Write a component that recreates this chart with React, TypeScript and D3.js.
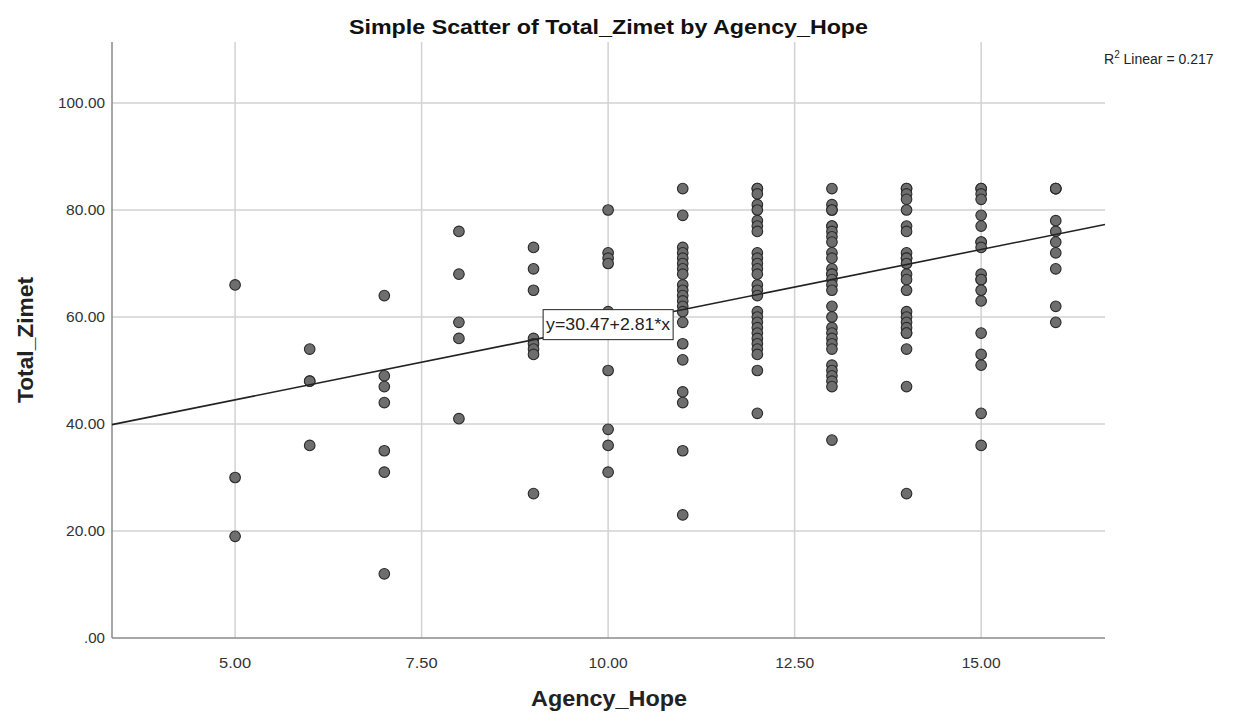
import React from "react";
import * as d3 from "d3";

const xTicks = [5, 7.5, 10, 12.5, 15];
const yTicks = [0, 20, 40, 60, 80, 100];

const hope5 = [66, 30, 19];
const hope6 = [54, 48, 48, 36];
const hope7 = [64, 49, 47, 44, 35, 31, 12];
const hope8 = [76, 68, 59, 56, 41];
const hope9 = [73, 69, 65, 56, 55, 54, 53, 27];
const hope10 = [80, 72, 71, 70, 61, 50, 39, 36, 31];
const hope11 = [84, 79, 73, 72, 71, 70, 69, 68, 66, 65, 64, 63, 62, 61, 59, 55, 52, 46, 44, 35, 23];
const hope12 = [84, 84, 83, 81, 80, 78, 77, 76, 72, 71, 70, 69, 68, 66, 65, 64, 61, 60, 59, 58, 57, 56, 55, 54, 53, 50, 42];
const hope13 = [84, 81, 80, 80, 77, 77, 76, 75, 74, 72, 71, 69, 68, 68, 67, 66, 65, 62, 60, 58, 57, 56, 55, 54, 51, 50, 49, 48, 47, 37];
const hope14 = [84, 84, 83, 82, 80, 77, 76, 72, 71, 71, 70, 68, 67, 65, 61, 60, 59, 58, 57, 57, 54, 47, 27];
const hope15 = [84, 84, 83, 82, 79, 77, 74, 74, 73, 68, 67, 67, 65, 63, 57, 53, 51, 42, 36];
const hope16 = [84, 84, 84, 78, 76, 74, 72, 69, 62, 59];

const columns: [number, number[]][] = [
  [5, hope5], [6, hope6], [7, hope7], [8, hope8], [9, hope9], [10, hope10],
  [11, hope11], [12, hope12], [13, hope13], [14, hope14], [15, hope15], [16, hope16],
];

const intercept = 30.47;
const slope = 2.81;
const eqLabel = "y=30.47+2.81*x";
const r2Text = "0.217";

const W = 1235;
const H = 712;
const L = 112, R = 1105, T = 42, B = 638;

export default function App() {
  const x = d3.scaleLinear().domain([3.35, 16.66]).range([L, R]);
  const y = d3.scaleLinear().domain([0, 111.4]).range([B, T]);
  const points = columns.flatMap(([hx, vals]) => vals.map((v) => ({ hx, v })));
  const fit = (v: number) => intercept + slope * v;
  const [x0, x1] = x.domain();
  const font = "'Liberation Sans', Arial, sans-serif";
  const eqX = x(10);
  const eqY = y(fit(10));

  return (
    <svg width={W} height={H} style={{ position: "absolute", left: 0, top: 0, background: "#fff" }} fontFamily={font}>
      <rect x={0} y={0} width={W} height={H} fill="#fff" />
      {yTicks.filter((t) => t > 0).map((t) => (
        <line key={"gy" + t} x1={L} x2={R} y1={y(t)} y2={y(t)} stroke="#d2d2d2" strokeWidth={1.5} />
      ))}
      {xTicks.map((t) => (
        <line key={"gx" + t} x1={x(t)} x2={x(t)} y1={T} y2={B} stroke="#d2d2d2" strokeWidth={1.5} />
      ))}
      <line x1={L} x2={L} y1={T} y2={B} stroke="#8a8a8a" strokeWidth={1.5} />
      <line x1={L} x2={R} y1={B} y2={B} stroke="#8a8a8a" strokeWidth={1.5} />
      {yTicks.map((t) => (
        <text key={"ty" + t} x={105} y={y(t)} dy="0.35em" textAnchor="end" fontSize={14.5} fill="#333"
          textLength={t === 0 ? 21 : t === 100 ? 47 : 39} lengthAdjust="spacingAndGlyphs">
          {t === 0 ? ".00" : t.toFixed(2)}
        </text>
      ))}
      {xTicks.map((t) => (
        <text key={"tx" + t} x={x(t)} y={663} dy="0.35em" textAnchor="middle" fontSize={14.5} fill="#333"
          textLength={t < 10 ? 32 : 39} lengthAdjust="spacingAndGlyphs">
          {t.toFixed(2)}
        </text>
      ))}
      {points.map((p, i) => (
        <circle key={i} cx={x(p.hx)} cy={y(p.v)} r={5.3} fill="#6e6e6e" stroke="#2a2a2a" strokeWidth={1.1} />
      ))}
      <line x1={x(x0)} y1={y(fit(x0))} x2={x(x1)} y2={y(fit(x1))} stroke="#222" strokeWidth={1.6} />
      <rect x={eqX - 65} y={eqY - 15} width={130} height={30} fill="#fff" stroke="#222" strokeWidth={1} />
      <text x={eqX} y={eqY} dy="0.35em" textAnchor="middle" fontSize={16.5} fill="#222"
        textLength={124} lengthAdjust="spacingAndGlyphs">{eqLabel}</text>
      <text x={608.5} y={34} textAnchor="middle" fontSize={20} fontWeight="bold" fill="#111"
        textLength={519} lengthAdjust="spacingAndGlyphs">
        Simple Scatter of Total_Zimet by Agency_Hope
      </text>
      <text x={1104} y={64} fontSize={14} fill="#222">
        R<tspan dy={-6} fontSize={10}>2</tspan><tspan dy={6}> Linear = {r2Text}</tspan>
      </text>
      <text x={609} y={706} textAnchor="middle" fontSize={22} fontWeight="bold" fill="#222"
        textLength={156} lengthAdjust="spacingAndGlyphs">Agency_Hope</text>
      <text transform={`translate(33,340) rotate(-90)`} textAnchor="middle" fontSize={22} fontWeight="bold" fill="#222"
        textLength={126} lengthAdjust="spacingAndGlyphs">
        Total_Zimet
      </text>
    </svg>
  );
}
